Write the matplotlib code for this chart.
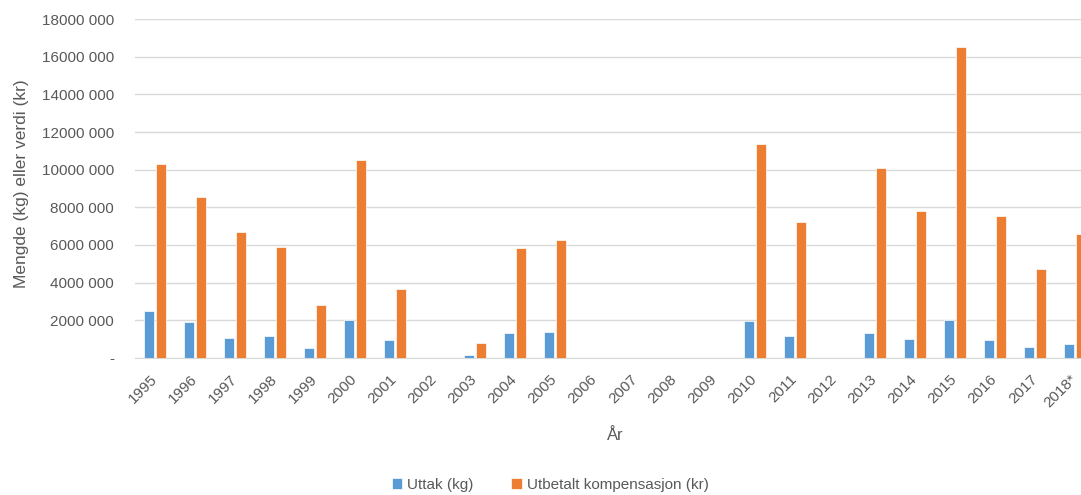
import numpy as np
import matplotlib
matplotlib.use("Agg")
import matplotlib.pyplot as plt
import matplotlib.transforms as mtransforms

plt.rcParams['font.family'] = ['Liberation Sans', 'DejaVu Sans']

years = ['1995', '1996', '1997', '1998', '1999', '2000', '2001', '2002', '2003', '2004',
         '2005', '2006', '2007', '2008', '2009', '2010', '2011', '2012', '2013', '2014',
         '2015', '2016', '2017', '2018*']
uttak = [2490000, 1900000, 1060000, 1170000, 510000, 2000000, 950000, 0, 160000, 1310000,
         1400000, 0, 0, 0, 0, 1960000, 1150000, 0, 1310000, 1010000,
         2000000, 950000, 570000, 760000]
kompensasjon = [10300000, 8550000, 6700000, 5900000, 2800000, 10500000, 3650000, 0, 780000, 5850000,
                6250000, 0, 0, 0, 0, 11350000, 7200000, 0, 10100000, 7800000,
                16500000, 7550000, 4700000, 6600000]
yticks = [0, 2000000, 4000000, 6000000, 8000000, 10000000, 12000000, 14000000, 16000000, 18000000]
ytick_labels = ['-', '2000 000', '4000 000', '6000 000', '8000 000', '10000 000',
                '12000 000', '14000 000', '16000 000', '18000 000']

blue = '#5b9bd5'
orange = '#ed7d31'
grey = '#595959'

fig = plt.figure(figsize=(10.81, 4.95), dpi=100)
ax = fig.add_axes([135/1081, 1-358/495, 960/1081, 339/495])

x = np.arange(len(years))
w = 0.25
ax.bar(x - 0.15, uttak, w, color=blue, edgecolor='white', linewidth=0.5, label='Uttak (kg)', zorder=3)
ax.bar(x + 0.15, kompensasjon, w, color=orange, edgecolor='white', linewidth=0.5,
       label='Utbetalt kompensasjon (kr)', zorder=3)

ax.set_xlim(-0.5, len(years) - 0.5)
ax.set_ylim(0, 18000000)
ax.set_yticks(yticks)
ax.set_yticklabels(ytick_labels)
ax.set_xticks(x)
ax.set_xticklabels(years, rotation=45, ha='right', rotation_mode='anchor')
ax.tick_params(length=0, colors=grey, labelsize=11)
ax.tick_params(axis='y', pad=15)
ax.tick_params(axis='x', pad=10)
shift = mtransforms.ScaledTranslation(-5/100, 0, fig.dpi_scale_trans)
for lbl in ax.get_xticklabels():
    lbl.set_transform(lbl.get_transform() + shift)
ax.grid(axis='y', color='#d9d9d9', linewidth=1, zorder=0)
for s in ['top', 'right', 'left']:
    ax.spines[s].set_visible(False)
ax.spines['bottom'].set_color('#d9d9d9')

ax.set_ylabel('Mengde (kg) eller verdi (kr)', fontsize=12.5, color=grey)
ax.yaxis.set_label_coords(-106/960, 0.515)
fig.text(615/1081, 1-435/495, 'År', fontsize=12, color=grey, ha='center', va='center')

fig.legend(loc='center', bbox_to_anchor=(550/1081, 1-485/495), ncol=2, frameon=False,
           fontsize=11, labelcolor=grey, handlelength=0.7, handleheight=0.7,
           handletextpad=0.3, columnspacing=2.5)

fig.savefig('out.png', dpi=100)
